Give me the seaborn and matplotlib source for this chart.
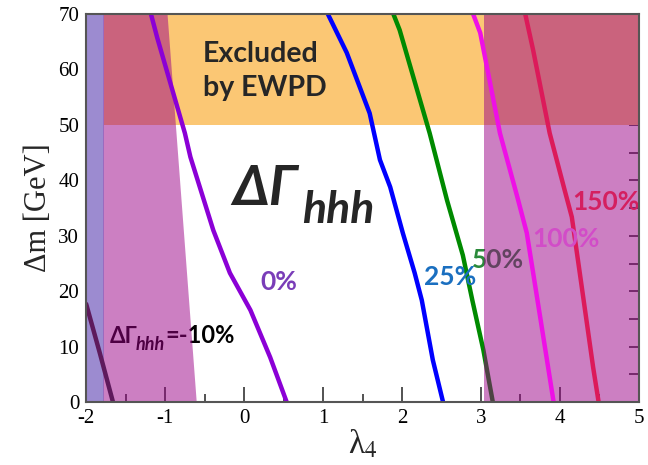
import numpy as np
import matplotlib
matplotlib.use("Agg")
import matplotlib.pyplot as plt
import seaborn as sns

# contour lines of Delta Gamma_hhh (lambda_4, Delta m)
x_m10 = [-2.0, -1.83, -1.66]
y_m10 = [17.7, 9.0, 0.0]
x_0 = [-1.18, -1.10, -0.75, -0.68, -0.39, -0.18, 0.08, 0.33, 0.54]
y_0 = [70, 65.7, 48.5, 44.2, 31.0, 23.3, 16.6, 8.1, 0]
x_25 = [1.06, 1.30, 1.59, 1.72, 1.85, 2.01, 2.16, 2.25, 2.39, 2.52]
y_25 = [70, 63.0, 52.1, 43.7, 38.8, 30.5, 23.3, 18.4, 7.6, 0]
x_50 = [1.89, 1.97, 2.35, 2.57, 2.77, 2.89, 3.03, 3.15]
y_50 = [70, 67.1, 48.5, 36.4, 26.5, 18.4, 9.4, 0]
x_100 = [2.90, 2.99, 3.24, 3.46, 3.58, 3.75, 3.92]
y_100 = [70, 66.6, 48.5, 37.0, 30.5, 15.3, 0]
x_150 = [3.56, 3.66, 3.87, 4.06, 4.15, 4.25, 4.42, 4.49]
y_150 = [70, 63.5, 48.5, 38.2, 33.4, 23.4, 6.3, 0]

# shaded regions
ewpd_ymin, ewpd_ymax = 50, 70
band_x = [-2.0, -1.78]
left_x_bottom = [-1.78, -0.60]
left_x_top = [-1.78, -0.97]
right_x = [3.04, 5.0]

sns.set_style("ticks")
plt.rcParams["mathtext.fontset"] = "stix"
serif = ["Liberation Serif", "DejaVu Serif"]
sans = ["Lato", "DejaVu Sans"]

fig = plt.figure(figsize=(6.48, 4.65), dpi=100)
ax = fig.add_axes([0.133, 0.135, 0.853, 0.835])

# excluded by EWPD
ax.fill_between([-2, 5], ewpd_ymin, ewpd_ymax, color="#fbc774", lw=0, zorder=1)
# leftmost band
ax.fill_between(band_x, 0, 70, color="#9c8bd0", lw=0, zorder=1.5)

lw = 3.2
sns.lineplot(x=x_50, y=y_50, sort=False, estimator=None, color="#008a00", lw=lw, ax=ax, zorder=2)

# pink overlays (drawn over the green line and black/green labels)
ax.fill([left_x_bottom[0], left_x_bottom[1], left_x_top[1], left_x_top[0]], [0, 0, 70, 70],
        color="#9b0087", alpha=0.5, lw=0, zorder=3)
ax.fill_betweenx([0, 70], right_x[0], right_x[1], color="#9b0087", alpha=0.5, lw=0, zorder=3)

for xs, ys, c in [(x_m10, y_m10, "#5e1a5c"), (x_0, y_0, "#8b00d6"), (x_25, y_25, "#0000ff"),
                  (x_100, y_100, "#ee10e6"), (x_150, y_150, "#dc1a5a")]:
    sns.lineplot(x=xs, y=ys, sort=False, estimator=None, color=c, lw=lw, ax=ax, zorder=4)

# text
ax.text(-0.52, 61.3, "Excluded", family=sans, weight="bold", size=20.5, zorder=2.5)
ax.text(-0.52, 55.2, "by EWPD", family=sans, weight="bold", size=20.5, zorder=2.5)
ax.text(-0.15, 35.5, "ΔΓ", family=sans, weight="bold", style="italic", size=40, zorder=2.5)
ax.text(0.74, 32.3, "hhh", family=sans, weight="bold", style="italic", size=32, zorder=2.5)

ax.text(0.20, 20.2, "0%", family=sans, weight="bold", size=19, color="#7a3db8", zorder=5)
ax.text(2.28, 21.1, "25%", family=sans, weight="bold", size=19, color="#1a6fc0", zorder=5)
ax.text(2.89, 24.2, "50%", family=sans, weight="bold", size=19, color="#2a8a3a", zorder=2.5)
ax.text(3.65, 28.0, "100%", family=sans, weight="bold", size=19, color="#d24cc8", zorder=5)
ax.text(4.15, 34.6, "150%", family=sans, weight="bold", size=19, color="#d42060", zorder=5)

ax.text(-1.70, 10.6, "ΔΓ", family=sans, weight="bold", size=16, color="black", zorder=2.5)
ax.text(-1.37, 9.4, "hhh", family=sans, weight="bold", style="italic", size=13, color="black", zorder=2.5)
ax.text(-1.00, 10.6, "=-10%", family=sans, weight="bold", size=17, color="black", zorder=2.5)

ax.set_xlim(-2, 5)
ax.set_ylim(0, 70)
ax.set_xticks(np.arange(-2, 6, 1))
ax.set_xticks(np.arange(-2, 5.5, 0.5), minor=True)
ax.set_yticks(np.arange(0, 80, 10))
ax.set_yticks(np.arange(0, 75, 5), minor=True)
ax.set_xticklabels([str(v) for v in range(-2, 6)])
ax.tick_params(axis="x", which="major", direction="in", length=11, width=1.3, top=True,
               colors="#444444", labelcolor="black", labelsize=15, pad=5)
ax.tick_params(axis="x", which="minor", direction="in", length=6, width=1.3, top=True, colors="#444444")
ax.tick_params(axis="y", which="both", direction="in", length=7, width=1.3, right=True,
               colors="#444444", labelcolor="black", labelsize=15, pad=5)
for lab in ax.get_xticklabels() + ax.get_yticklabels():
    lab.set_family(serif)
for s in ax.spines.values():
    s.set_color("#555555")
    s.set_linewidth(1.5)
    s.set_zorder(6)

ax.set_ylabel("Δm [GeV]", family=serif, size=22, labelpad=4)
ax.set_xlabel("λ$_4$", family=serif, size=24, labelpad=0)

fig.savefig("out.png", dpi=100)
